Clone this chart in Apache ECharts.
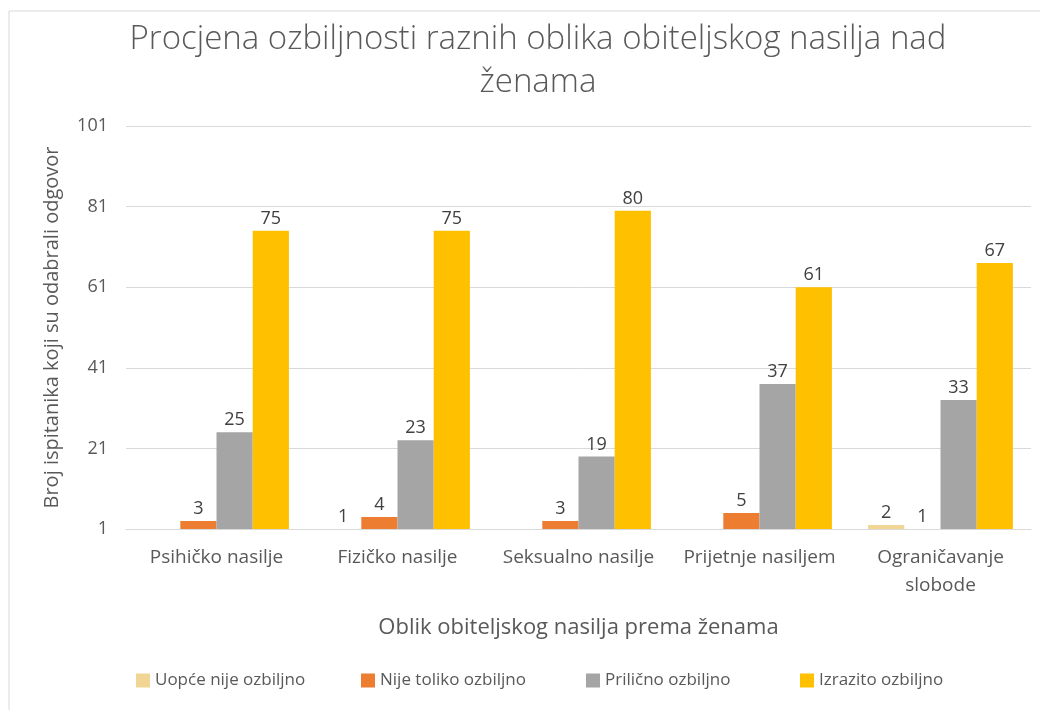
<!DOCTYPE html>
<html>
<head>
<meta charset="utf-8">
<script src="https://cdn.jsdelivr.net/npm/echarts@6/dist/echarts.min.js"></script>
<style>
  html, body { margin: 0; padding: 0; background: #fff; }
  #chart { width: 1040px; height: 710px; }
</style>
</head>
<body>
<div id="chart"></div>
<script>
// kategorije i vrijednosti ocitane sa slike
var categories = ['Psihičko nasilje', 'Fizičko nasilje', 'Seksualno nasilje', 'Prijetnje nasiljem', 'Ograničavanje\nslobode'];
var seriesNames = ['Uopće nije ozbiljno', 'Nije toliko ozbiljno', 'Prilično ozbiljno', 'Izrazito ozbiljno'];
var uopceNije = [null, 1, null, null, 2];
var nijeToliko = [3, 4, 3, 5, 1];
var prilicno = [25, 23, 19, 37, 33];
var izrazito = [75, 75, 80, 61, 67];
var yTicks = [1, 21, 41, 61, 81, 101];

var colors = ['#f0d595', '#ed7d31', '#a5a5a5', '#ffc000'];
var legendLeft = [131, 356, 581, 795];
var font = 'Open Sans';

var myChart = echarts.init(document.getElementById('chart'));

function makeSeries(name, data, idx) {
    return {
        name: name,
        type: 'bar',
        data: data,
        barGap: '0%',
        barCategoryGap: '20%',
        itemStyle: { color: colors[idx] },
        label: {
            show: true,
            position: 'top',
            distance: 3,
            color: '#404040',
            fontSize: 18,
            fontFamily: font
        }
    };
}

// svaka stavka legende posebno, kao u Excelu
var legends = seriesNames.map(function (n, i) {
    return {
        data: [n],
        top: 667,
        left: legendLeft[i],
        itemWidth: 14,
        itemHeight: 14,
        itemGap: 6,
        icon: 'rect',
        textStyle: { color: '#595959', fontSize: 17, fontFamily: font }
    };
});

var option = {
    animation: false,
    textStyle: { fontFamily: font },
    graphic: [{
        type: 'rect',
        shape: { x: 9, y: 11, width: 1100, height: 800 },
        style: { fill: 'none', stroke: '#d9d9d9', lineWidth: 1 },
        silent: true
    }],
    title: {
        text: 'Procjena ozbiljnosti raznih oblika obiteljskog nasilja nad\nženama',
        left: 533,
        top: 13,
        textAlign: 'center',
        textStyle: {
            color: '#595959',
            fontSize: 33,
            fontWeight: 300,
            fontFamily: font,
            lineHeight: 43
        }
    },
    legend: legends,
    grid: {
        left: 126,
        right: 9,
        top: 126,
        bottom: 181,
        containLabel: false
    },
    xAxis: {
        type: 'category',
        data: categories,
        name: 'Oblik obiteljskog nasilja prema ženama',
        nameLocation: 'middle',
        nameGap: 88,
        nameTextStyle: { color: '#595959', fontSize: 22, fontFamily: font },
        axisLine: { lineStyle: { color: '#d9d9d9' } },
        axisTick: { show: false },
        axisLabel: {
            color: '#595959',
            fontSize: 19,
            fontFamily: font,
            margin: 15,
            lineHeight: 28,
            interval: 0
        }
    },
    yAxis: {
        type: 'value',
        min: yTicks[0],
        max: yTicks[yTicks.length - 1],
        interval: 20,
        name: 'Broj ispitanika koji su odabrali odgovor',
        nameLocation: 'middle',
        nameGap: 64,
        nameTextStyle: { color: '#595959', fontSize: 20, fontFamily: font },
        axisLine: { show: false },
        axisTick: { show: false },
        splitLine: { lineStyle: { color: '#d9d9d9' } },
        axisLabel: { color: '#595959', fontSize: 18, fontFamily: font, margin: 18 }
    },
    series: [
        makeSeries(seriesNames[0], uopceNije, 0),
        makeSeries(seriesNames[1], nijeToliko, 1),
        makeSeries(seriesNames[2], prilicno, 2),
        makeSeries(seriesNames[3], izrazito, 3)
    ]
};

myChart.setOption(option);
</script>
</body>
</html>
